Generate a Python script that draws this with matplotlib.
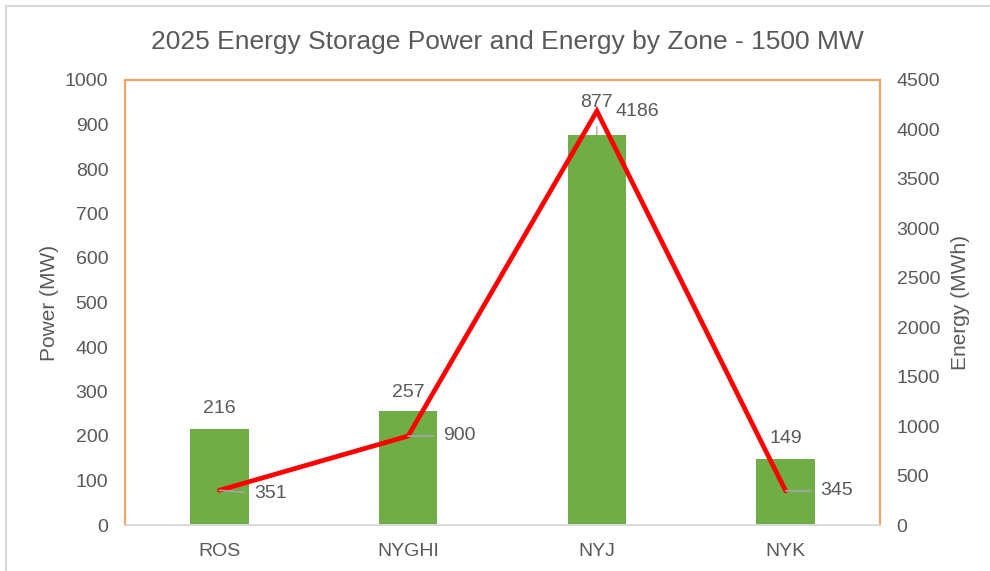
import matplotlib
matplotlib.use("Agg")
import matplotlib.pyplot as plt
from matplotlib.patches import Rectangle

zones = ["ROS", "NYGHI", "NYJ", "NYK"]
power_mw = [216, 257, 877, 149]
energy_mwh = [351, 900, 4186, 345]

TEXT = "#595959"
GREEN = "#70AD47"
ORANGE = "#F2A365"
LEADER = "#A6A6A6"

plt.rcParams.update({"font.family": ["Liberation Sans", "DejaVu Sans"]})

fig = plt.figure(figsize=(9.9, 5.71), dpi=100)
ax = fig.add_axes([125 / 990, 1 - 525 / 571, 755 / 990, 445 / 571])
ax2 = ax.twinx()

# outer chart border (only top/left visible in the reference)
fig.patches.append(Rectangle((6 / 990, -0.1), 2, 1.1 - 6 / 571, transform=fig.transFigure,
                             fill=False, edgecolor="#D9D9D9", lw=1.5))

x = range(len(zones))
ax.bar(x, power_mw, width=0.31, color=GREEN, zorder=2)
ax.set_xlim(-0.5, len(zones) - 0.5)
ax.set_ylim(0, 1000)
ax.set_yticks(range(0, 1001, 100))
ax.set_xticks(list(x))
ax.set_xticklabels(zones)
ax.set_ylabel("Power (MW)", fontsize=15, color=TEXT, labelpad=4)

ax2.plot(x, energy_mwh, color="red", lw=3.4, zorder=3, solid_capstyle="round",
         solid_joinstyle="miter")
ax2.set_ylim(0, 4500)
ax2.set_yticks(range(0, 4501, 500))
ax2.set_ylabel("Energy (MWh)", fontsize=15, color=TEXT, labelpad=8)

for a in (ax, ax2):
    a.tick_params(length=0, labelsize=14, labelcolor=TEXT)
    for side in ("left", "right", "top"):
        a.spines[side].set_color(ORANGE)
        a.spines[side].set_linewidth(1.5)
    a.spines["bottom"].set_color("#D9D9D9")
    a.spines["bottom"].set_linewidth(1.2)
ax.tick_params(axis="y", pad=12)
ax.tick_params(axis="x", pad=13)
ax2.tick_params(axis="y", pad=12)
ax2.set_zorder(ax.get_zorder() + 1)

# power labels
bar_offsets = [20, 18, 32, 20]
for i, (v, dy) in enumerate(zip(power_mw, bar_offsets)):
    if i == 2:
        ax.annotate(str(v), (i, v), xytext=(0, dy), textcoords="offset pixels",
                    ha="center", va="center", fontsize=14, color=TEXT,
                    arrowprops=dict(arrowstyle="-", color=LEADER, lw=1,
                                    shrinkA=9, shrinkB=0))
    else:
        ax.annotate(str(v), (i, v), xytext=(0, dy), textcoords="offset pixels",
                    ha="center", va="center", fontsize=14, color=TEXT)

# energy labels with leader lines
energy_offsets = [(35, -3), (35, 0), (19, 0), (35, 0)]
for i, (v, (dx, dy)) in enumerate(zip(energy_mwh, energy_offsets)):
    if i == 2:
        ax2.annotate(str(v), (i, v), xytext=(dx, dy), textcoords="offset pixels",
                     ha="left", va="center", fontsize=14, color=TEXT, zorder=5)
    else:
        ax2.annotate(str(v), (i, v), xytext=(dx, dy), textcoords="offset pixels",
                     ha="left", va="center", fontsize=14, color=TEXT, zorder=5,
                     arrowprops=dict(arrowstyle="-", color=LEADER, lw=1.2,
                                     relpos=(0, 0.5), shrinkA=5, shrinkB=0))

fig.text(507 / 990, 1 - 42 / 571, "2025 Energy Storage Power and Energy by Zone - 1500 MW",
         ha="center", va="center", fontsize=19, color=TEXT)

fig.savefig("out.png", dpi=100, facecolor="white")
